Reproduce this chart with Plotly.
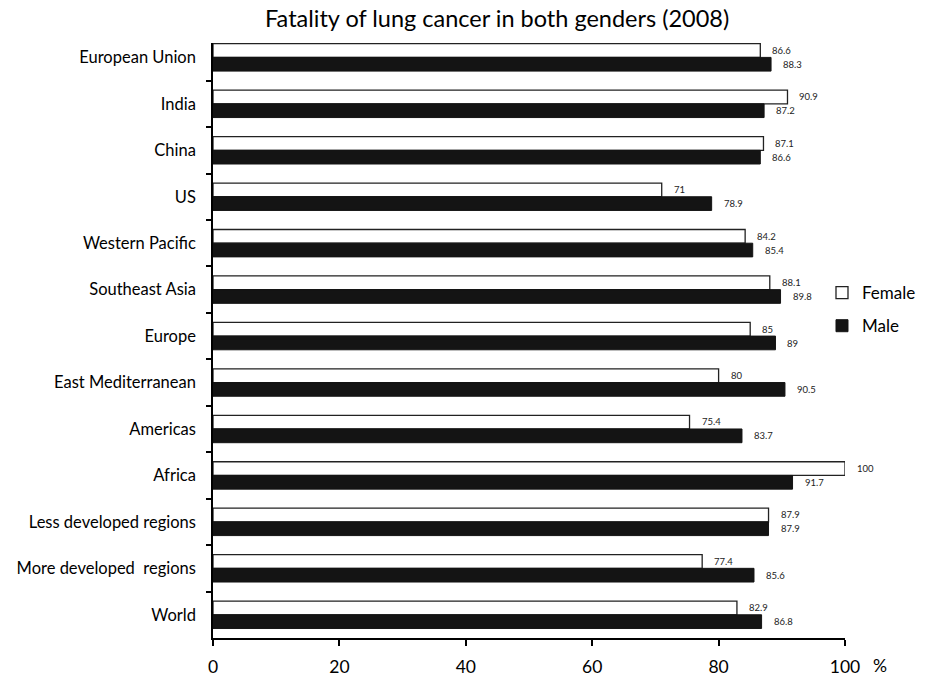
import plotly.graph_objects as go

categories = ["European Union", "India", "China", "US", "Western Pacific", "Southeast Asia",
              "Europe", "East Mediterranean", "Americas", "Africa",
              "Less developed regions", "More developed  regions", "World"]
female = [86.6, 90.9, 87.1, 71, 84.2, 88.1, 85, 80, 75.4, 100, 87.9, 77.4, 82.9]
male = [88.3, 87.2, 86.6, 78.9, 85.4, 89.8, 89, 90.5, 83.7, 91.7, 87.9, 85.6, 86.8]
x_ticks = [0, 20, 40, 60, 80, 100]

FONT = "Lato"

fig = go.Figure()
fig.add_trace(go.Bar(
    y=categories, x=female, orientation="h", name="Female",
    marker=dict(color="white", line=dict(color="#222222", width=1.3)),
    legendgroup="f",
))
fig.add_trace(go.Bar(
    y=categories, x=male, orientation="h", name="Male",
    marker=dict(color="#141414", line=dict(color="#141414", width=1)),
    legendgroup="m",
))

annotations = []
for cat, v in zip(categories, female):
    annotations.append(dict(x=v, y=cat, xref="x", yref="y", text=f"{v:g}", showarrow=False,
                            xanchor="left", yanchor="middle", xshift=10, yshift=7,
                            font=dict(size=9.5, color="#222222", family=FONT)))
for cat, v in zip(categories, male):
    annotations.append(dict(x=v, y=cat, xref="x", yref="y", text=f"{v:g}", showarrow=False,
                            xanchor="left", yanchor="middle", xshift=10, yshift=-7,
                            font=dict(size=9.5, color="#222222", family=FONT)))
annotations.append(dict(x=100, y=0, xref="x", yref="paper", text="%", showarrow=False,
                        xanchor="left", yanchor="middle", xshift=26, yshift=-27,
                        font=dict(size=17.5, color="black", family=FONT)))
annotations.append(dict(x=0.4486, y=1, xref="paper", yref="paper",
                        text="Fatality of lung cancer in both genders (2008)",
                        showarrow=False, xanchor="center", yanchor="middle", yshift=25,
                        font=dict(size=23.5, color="black", family=FONT)))

fig.update_layout(
    width=933, height=678,
    margin=dict(l=213, r=88, t=43, b=40, autoexpand=False),
    paper_bgcolor="white", plot_bgcolor="white",
    barmode="group", bargap=0.41, bargroupgap=0,
    font=dict(family=FONT, color="black"),
    showlegend=True,
    legend=dict(x=0.9636, y=0.552, xanchor="left", yanchor="middle",
                traceorder="grouped", tracegroupgap=8,
                font=dict(size=17, family=FONT), bgcolor="rgba(0,0,0,0)"),
    annotations=annotations,
)
fig.update_xaxes(range=[0, 100], tickvals=x_ticks, ticks="outside", ticklen=6, tickwidth=1.5,
                 tickcolor="black", showline=True, linecolor="black", linewidth=2,
                 showgrid=False, zeroline=False, tickfont=dict(size=17.5, family=FONT),
                 ticklabelstandoff=6, automargin=False)
fig.update_yaxes(type="category", categoryorder="array", categoryarray=categories,
                 range=[12.5, -0.31], tickson="boundaries", ticks="outside", ticklen=5,
                 tickwidth=1.5, tickcolor="black", showline=True, linecolor="black",
                 linewidth=1.5, showgrid=False, tickfont=dict(size=16.5, family=FONT),
                 ticklabelstandoff=12, automargin=False)

fig.write_html("out.html", config={"displayModeBar": False},
               post_script="document.body.style.margin='0';")
